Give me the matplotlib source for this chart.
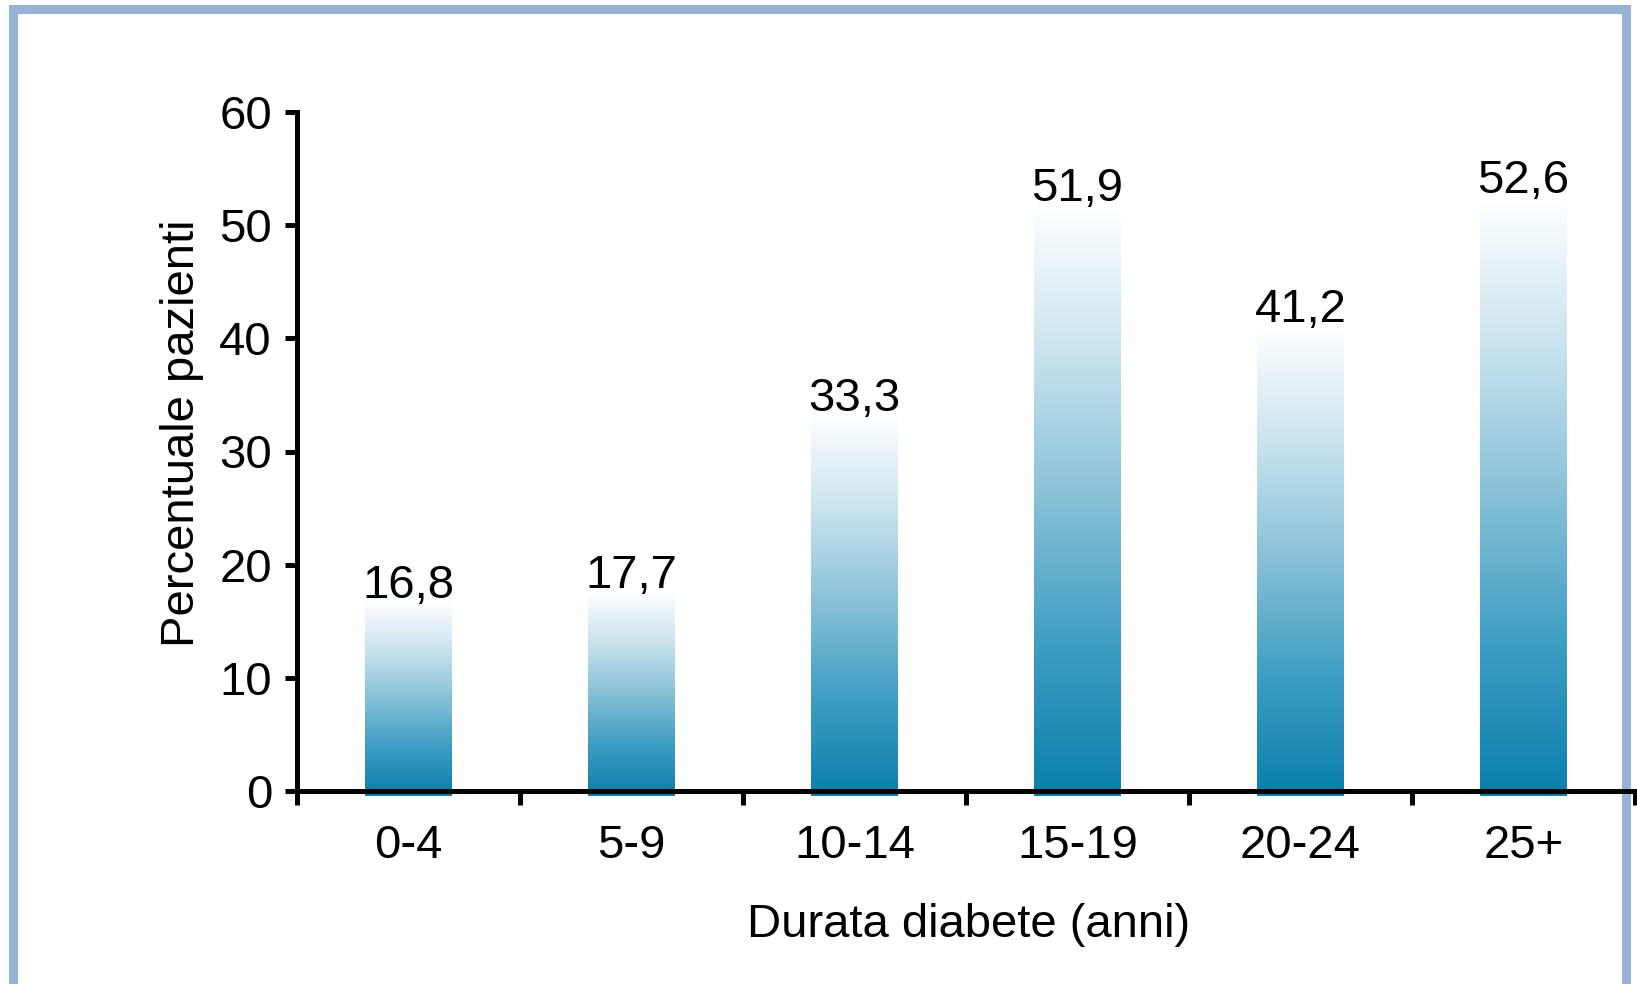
import numpy as np
import matplotlib
matplotlib.use("Agg")
import matplotlib.pyplot as plt
from matplotlib.colors import LinearSegmentedColormap
from matplotlib.patches import Rectangle

# ================== dati ==================
categorie = ["0-4", "5-9", "10-14", "15-19", "20-24", "25+"]
valori = [16.8, 17.7, 33.3, 51.9, 41.2, 52.6]
etichette = ["16,8", "17,7", "33,3", "51,9", "41,2", "52,6"]
y_ticks = [0, 10, 20, 30, 40, 50, 60]
# ==========================================

plt.rcParams["font.family"] = ["Liberation Sans", "DejaVu Sans"]
FS = 34

W, H, DPI = 1637, 984, 100
fig = plt.figure(figsize=(W / DPI, H / DPI), dpi=DPI)
fig.patch.set_facecolor("white")

# cornice azzurra
border = Rectangle((12.5 / W, -0.05), (1625.5 - 12.5) / W, 1.05 - 9 / H,
                   transform=fig.transFigure, fill=False,
                   edgecolor="#95b3d7", linewidth=6.5, zorder=-1)
fig.patches.append(border)

ax = fig.add_axes([297 / W, 193 / H, (1635 - 297) / W, (791 - 112) / H])
ax.patch.set_visible(False)

cmap = LinearSegmentedColormap.from_list(
    "grad", ["#ffffff", "#c9e3ee", "#86c0d7", "#3d9dc3", "#0a7fab"])
# riga 0 = alto della barra (bianco)
grad = np.linspace(0, 1, 256).reshape(-1, 1)

bw = 0.39
x = np.arange(len(categorie))
for xi, v, lab in zip(x, valori, etichette):
    ax.imshow(grad, cmap=cmap, aspect="auto", interpolation="bilinear",
              extent=[xi - bw / 2, xi + bw / 2, -0.4, v], zorder=1,
              clip_on=False)
    ax.annotate(lab, (xi, v), xytext=(0, -5), textcoords="offset points",
                ha="center", va="bottom", fontsize=FS, zorder=4)

ax.set_xlim(-0.5, len(categorie) - 0.5)
ax.set_ylim(0, 60)

for s in ["top", "right"]:
    ax.spines[s].set_visible(False)
for s in ["left", "bottom"]:
    ax.spines[s].set_linewidth(3.6)
    ax.spines[s].set_zorder(3)

ax.set_yticks(y_ticks)
ax.tick_params(axis="y", direction="out", length=9, width=3.6,
               labelsize=FS, pad=9)

ax.set_xticks(np.arange(len(categorie) + 1) - 0.5)
ax.set_xticklabels([])
ax.set_xticks(x, minor=True)
ax.set_xticklabels(categorie, minor=True)
ax.tick_params(axis="x", which="major", direction="out", length=10,
               width=3.6)
ax.tick_params(axis="x", which="minor", length=0, labelsize=FS, pad=24)

fig.text(182 / W, 1 - 433 / H, "Percentuale pazienti", rotation=90,
         ha="center", va="center", fontsize=FS)
fig.text(969 / W, 1 - 925 / H, "Durata diabete (anni)",
         ha="center", va="center", fontsize=FS)

fig.savefig("out.png", dpi=DPI)
